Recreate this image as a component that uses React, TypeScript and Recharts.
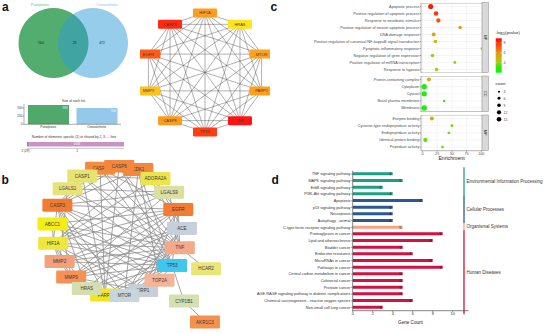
import React from 'react';
import {
  ScatterChart, Scatter, XAxis, YAxis, CartesianGrid, ReferenceLine, ReferenceArea,
  BarChart, Bar, Cell, LabelList, PieChart, Pie,
} from 'recharts';

const FONT = '"Liberation Sans", Arial, Helvetica, sans-serif';

// ---------------- Panel a : Venn + set sizes ----------------
const vennSetNames = ['Panoptosis', 'Osteoarthritis'];
const vennRegionCounts = [564, 29, 472];
const setSizes = [593, 501];
const sizeTicks = [0, 250, 500];
const elementShareLabels = ['2 (29)', '1'];
const elementShareCounts = [29, 1036];

// ---------------- Panel a : hub gene network ----------------
const hubGenes = ['HIF1A', 'HRAS', 'MTOR', 'PARP1', 'TNF', 'TP53', 'CASP8', 'MMP9', 'EGFR', 'CASP3'];
const hubColors = ['#ff9d1f', '#ffe31c', '#ffa11d', '#ffa01d', '#ff1414', '#ff3c12', '#ff9a1d', '#ffc21c', '#ff5a16', '#ff2a12'];

// ---------------- Panel b : PPI network ----------------
const ppiRing = ['CASP6', 'CDK1', 'ADORA2A', 'LGALS9', 'EGFR', 'ACE', 'TNF', 'TP53', 'TOP2A', 'NRP1', 'MTOR',
  'PARP1', 'HRAS', 'MMP9', 'MMP2', 'HIF1A', 'ABCC1', 'CASP3', 'LGALS1', 'CASP1', 'CASP8'];
const ppiRingColors = ['#f5873c', '#f5873c', '#ece44c', '#dadfa2', '#f47b30', '#c6d0da', '#f3a98a', '#3fc7ef', '#f3b596',
  '#c9cdd6', '#c6d6da', '#f4e61a', '#d5deb0', '#f59155', '#f3a07b', '#efe83c', '#f4ee12', '#f27a31', '#e7e27c', '#e5e372', '#f58c3c'];
const ppiOuter = ['HCAR2', 'CYP1B1', 'AKR1C3'];
const ppiOuterColors = ['#e8e676', '#d5e0b0', '#f5914f'];
const ppiOuterAngle = [23, 46.3, 46];
const ppiOuterRadius = [96.8, 96.9, 126.6];
const ppiBack = ['CASP8', 'CDK1', 'PARP1', 'NRP1'];
const ppiFront = ['CASP6', 'HRAS', 'MTOR'];
const ppiEdges = [
  'TNF-CASP3', 'TNF-CASP8', 'TNF-CASP1', 'TNF-MMP9', 'TNF-MMP2', 'TNF-HIF1A', 'TNF-EGFR', 'TNF-MTOR', 'TNF-HRAS',
  'TNF-LGALS9', 'TNF-ADORA2A', 'TNF-ABCC1', 'TNF-HCAR2', 'TNF-CASP6', 'TNF-PARP1', 'TNF-LGALS1',
  'TP53-CASP3', 'TP53-CASP8', 'TP53-CASP6', 'TP53-CASP1', 'TP53-HIF1A', 'TP53-MTOR', 'TP53-EGFR', 'TP53-HRAS',
  'TP53-MMP2', 'TP53-MMP9', 'TP53-PARP1', 'TP53-TOP2A', 'TP53-ABCC1', 'TP53-CYP1B1', 'TP53-CDK1', 'TP53-LGALS1',
  'CASP3-CASP8', 'CASP3-CASP6', 'CASP3-CASP1', 'CASP3-EGFR', 'CASP3-HIF1A', 'CASP3-MTOR', 'CASP3-PARP1', 'CASP3-HRAS',
  'CASP3-MMP9', 'CASP3-LGALS9', 'CASP3-TOP2A', 'CASP3-CDK1',
  'EGFR-HIF1A', 'EGFR-MTOR', 'EGFR-HRAS', 'EGFR-MMP9', 'EGFR-MMP2', 'EGFR-ABCC1', 'EGFR-CDK1', 'EGFR-CASP8',
  'HIF1A-MTOR', 'HIF1A-MMP9', 'HIF1A-MMP2', 'HIF1A-HRAS', 'HIF1A-CDK1', 'HIF1A-ABCC1', 'HIF1A-ADORA2A',
  'MTOR-HRAS', 'MTOR-CDK1', 'MTOR-PARP1', 'MTOR-ACE',
  'MMP9-MMP2', 'MMP9-HRAS', 'MMP9-ACE', 'MMP9-LGALS9', 'MMP9-NRP1',
  'CASP8-CASP6', 'CASP8-CASP1', 'CASP8-PARP1', 'CASP8-LGALS1',
  'CASP1-LGALS1', 'CASP1-PARP1', 'CASP6-PARP1', 'CASP1-ADORA2A',
  'ACE-ADORA2A', 'ACE-NRP1', 'ACE-MMP2', 'LGALS9-LGALS1', 'LGALS9-HIF1A', 'ABCC1-NRP1', 'CYP1B1-AKR1C3',
  'TOP2A-PARP1', 'TOP2A-ABCC1', 'NRP1-EGFR', 'NRP1-HIF1A', 'CDK1-TOP2A', 'CDK1-CASP8', 'LGALS1-MMP2',
];

// ---------------- Panel c : GO enrichment ----------------
const bpTerms = ['Apoptotic process', 'Positive regulation of apoptotic process', 'Response to xenobiotic stimulus',
  'Positive regulation of neuron apoptotic process', 'DNA damage response',
  'Positive regulation of canonical NF-kappaB signal transduction', 'Pyroptotic inflammatory response',
  'Negative regulation of gene expression', 'Positive regulation of miRNA transcription', 'Response to hypoxia'];
const bpEnrichment = [14, 23, 27, 64, 19, 22, 101, 17, 55, 24];
const bpCount = [18, 15, 13, 8, 11, 9, 5, 9, 6, 9];
const bpLogP = [8.6, 8.0, 7.4, 6.0, 5.6, 5.2, 5.0, 4.3, 4.0, 4.2];

const ccTerms = ['Protein-containing complex', 'Cytoplasm', 'Cytosol', 'Basal plasma membrane', 'Membrane'];
const ccEnrichment = [11, 3, 3, 37, 3];
const ccCount = [11, 21, 19, 4, 21];
const ccLogP = [5.2, 2.8, 2.9, 3.0, 2.7];

const mfTerms = ['Enzyme binding', 'Cysteine-type endopeptidase activity', 'Endopeptidase activity',
  'Identical protein binding', 'Peptidase activity'];
const mfEnrichment = [16, 50, 45, 5, 34];
const mfCount = [11, 6, 6, 13, 6];
const mfLogP = [5.4, 3.8, 3.9, 3.6, 3.8];

const enrichTicks = [0, 25, 50, 75, 100];
const logPTicks = [8, 6, 4];
const countBreaks = [3, 6, 9, 12, 15];

// ---------------- Panel d : KEGG ----------------
const pathways = ['TNF signaling pathway', 'MAPK signaling pathway', 'ErbB signaling pathway', 'PI3K-Akt signaling pathway',
  'Apoptosis', 'p53 signaling pathway', 'Necroptosis', 'Autophagy - animal', 'C-type lectin receptor signaling pathway',
  'Proteoglycans in cancer', 'Lipid and atherosclerosis', 'Bladder cancer', 'Endocrine resistance', 'MicroRNAs in cancer',
  'Pathways in cancer', 'Central carbon metabolism in cancer', 'Colorectal cancer', 'Prostate cancer',
  'AGE-RAGE signaling pathway in diabetic complications', 'Chemical carcinogenesis - reactive oxygen species',
  'Non-small cell lung cancer'];
const geneCounts = [4, 5, 3, 4, 7, 4, 4, 4, 5, 9, 8, 5, 6, 8, 9, 5, 5, 5, 5, 6, 3];
const pathwayClass = [
  'Environmental Information Processing', 'Environmental Information Processing', 'Environmental Information Processing',
  'Environmental Information Processing', 'Cellular Processes', 'Cellular Processes', 'Cellular Processes',
  'Cellular Processes', 'Organismal Systems', 'Human Diseases', 'Human Diseases', 'Human Diseases', 'Human Diseases',
  'Human Diseases', 'Human Diseases', 'Human Diseases', 'Human Diseases', 'Human Diseases', 'Human Diseases',
  'Human Diseases', 'Human Diseases'];
const classNames = ['Environmental Information Processing', 'Cellular Processes', 'Organismal Systems', 'Human Diseases'];
const classColors = ['#1ba084', '#2b5893', '#f7a282', '#d3123f'];
const geneTicks = [0, 2, 4, 6, 8, 10];

// ---------------- helpers ----------------
const colorStops: [number, number[]][] = [
  [2.0, [0, 255, 0]], [3.0, [40, 232, 20]], [4.0, [150, 208, 20]], [5.0, [205, 180, 10]],
  [6.0, [232, 150, 20]], [7.0, [246, 100, 16]], [8.0, [255, 55, 12]], [9.0, [255, 0, 0]],
];
function logpColor(v: number): string {
  if (v <= colorStops[0][0]) return `rgb(${colorStops[0][1].join(',')})`;
  for (let i = 1; i < colorStops.length; i++) {
    const [v1, c1] = colorStops[i];
    const [v0, c0] = colorStops[i - 1];
    if (v <= v1) {
      const t = (v - v0) / (v1 - v0);
      const c = c0.map((x, k) => Math.round(x + (c1[k] - x) * t));
      return `rgb(${c.join(',')})`;
    }
  }
  return 'rgb(255,0,0)';
}
const countRadius = (c: number) => 0.6 * Math.sqrt(c);

const plainYTick = (labels: (v: any) => string, fontSize: number, fill: string) => (p: any) => (
  <text x={p.x} y={p.y} dy="0.35em" textAnchor="end" fontSize={fontSize} fill={fill} fontFamily={FONT}>
    {labels(p.payload.value)}
  </text>
);

const nodeShape = (w: number, h: number, fs: number) => (p: any) => {
  const { cx, cy, payload } = p;
  if (cx == null || cy == null) return <g />;
  return (
    <g>
      <rect x={cx - w / 2} y={cy - h / 2} width={w} height={h} rx={1.3} fill={payload.color} />
      <text x={cx} y={cy} dy="0.36em" textAnchor="middle" fontSize={fs} fill="#3a3a3a" fontFamily={FONT}>{payload.name}</text>
    </g>
  );
};

// ---------------- Panel a network ----------------
function HubNetwork() {
  const R = 59.5;
  const nodes = hubGenes.map((g, i) => {
    const a = (-90 + i * 36) * Math.PI / 180;
    return { name: g, color: hubColors[i], x: R * Math.cos(a), y: -R * Math.sin(a) };
  });
  const edges: any[] = [];
  for (let i = 0; i < nodes.length; i++) for (let j = i + 1; j < nodes.length; j++) edges.push([nodes[i], nodes[j]]);
  return (
    <div style={{ position: 'absolute', left: 140, top: 0 }}>
      <ScatterChart width={130} height={145} margin={{ top: 0, right: 0, bottom: 0, left: 0 }}>
        <XAxis type="number" dataKey="x" domain={[-65, 65]} hide allowDataOverflow />
        <YAxis type="number" dataKey="y" domain={[-72.5, 72.5]} hide allowDataOverflow />
        {edges.map((e, k) => (
          <ReferenceLine key={k} segment={[{ x: e[0].x, y: e[0].y }, { x: e[1].x, y: e[1].y }]}
            stroke="#505050" strokeWidth={0.45} ifOverflow="visible" />
        ))}
        <Scatter data={nodes} isAnimationActive={false} shape={nodeShape(24, 9, 4)} />
      </ScatterChart>
    </div>
  );
}

// ---------------- Panel b network ----------------
function PPINetwork() {
  const cx = 117, cy = 71, R = 65;
  const all: any[] = ppiRing.map((g, i) => {
    const a = (-88 + i * (360 / ppiRing.length)) * Math.PI / 180;
    return { name: g, color: ppiRingColors[i], x: cx + R * Math.cos(a), y: cy + R * Math.sin(a) };
  });
  ppiOuter.forEach((g, i) => {
    const a = ppiOuterAngle[i] * Math.PI / 180;
    all.push({ name: g, color: ppiOuterColors[i], x: cx + ppiOuterRadius[i] * Math.cos(a), y: cy + ppiOuterRadius[i] * Math.sin(a) });
  });
  const byName: Record<string, any> = {};
  all.forEach((n) => { byName[n.name] = n; });
  const rank = (n: any) => (ppiBack.includes(n.name) ? 0 : ppiFront.includes(n.name) ? 2 : 1);
  const ordered = [...all].sort((a, b) => rank(a) - rank(b));
  return (
    <div style={{ position: 'absolute', left: 0, top: 160 }}>
      <ScatterChart width={240} height={173} margin={{ top: 0, right: 0, bottom: 0, left: 0 }}>
        <XAxis type="number" dataKey="x" domain={[0, 240]} hide allowDataOverflow />
        <YAxis type="number" dataKey="y" domain={[0, 173]} reversed hide allowDataOverflow />
        {ppiEdges.map((e, k) => {
          const [s, t] = e.split('-');
          const a = byName[s], b = byName[t];
          if (!a || !b) return null;
          return (
            <ReferenceLine key={k} segment={[{ x: a.x, y: a.y }, { x: b.x, y: b.y }]}
              stroke="#8e8e8e" strokeWidth={0.8} ifOverflow="visible" />
          );
        })}
        <Scatter data={ordered} isAnimationActive={false} shape={nodeShape(30, 13, 4.6)} />
      </ScatterChart>
    </div>
  );
}

// ---------------- Panel a bar charts ----------------
function SetSizeChart() {
  const data = vennSetNames.map((n, i) => ({ name: n, size: setSizes[i] }));
  const fills = ['#4ea96b', '#94c9ea'];
  return (
    <div style={{ position: 'absolute', left: 0, top: 104 }}>
      <BarChart width={121} height={26.3} data={data} margin={{ top: 0, right: 0, bottom: 0, left: 0 }} barCategoryGap={4}>
        <XAxis dataKey="name" height={6} interval={0} tick={{ fontSize: 3.2, fill: '#333', fontFamily: FONT }}
          tickSize={1} tickMargin={0.3} axisLine={{ stroke: '#333', strokeWidth: 0.4 }} tickLine={{ stroke: '#333', strokeWidth: 0.4 }} />
        <YAxis type="number" domain={[0, 620]} ticks={sizeTicks} width={24} interval={0}
          tick={plainYTick((v) => String(v), 3.2, '#333')} tickSize={1} tickMargin={0.5}
          axisLine={{ stroke: '#333', strokeWidth: 0.4 }} tickLine={{ stroke: '#333', strokeWidth: 0.4 }} />
        <Bar dataKey="size" isAnimationActive={false}>
          {data.map((d, i) => <Cell key={i} fill={fills[i]} />)}
          <LabelList dataKey="size" position="insideTopRight" offset={1.5} fill="#fff" fontSize={3} fontFamily={FONT} />
        </Bar>
      </BarChart>
    </div>
  );
}

function ElementShareChart() {
  const row = { name: 'all', shared: elementShareCounts[0], specific: elementShareCounts[1] };
  const total = elementShareCounts[0] + elementShareCounts[1];
  return (
    <div style={{ position: 'absolute', left: 27, top: 141.7 }}>
      <BarChart layout="vertical" width={97} height={5} data={[row]} margin={{ top: 0, right: 0, bottom: 0, left: 0 }}>
        <XAxis type="number" domain={[0, total]} hide />
        <YAxis type="category" dataKey="name" hide />
        <Bar dataKey="shared" stackId="s" fill="#b77fb0" barSize={5} isAnimationActive={false} />
        <Bar dataKey="specific" stackId="s" fill="#c992c3" barSize={5} isAnimationActive={false}>
          <LabelList dataKey="specific" position="center" fill="#fff" fontSize={3} fontFamily={FONT} />
        </Bar>
      </BarChart>
    </div>
  );
}

function VennChart() {
  return (
    <div style={{ position: 'absolute', left: 0, top: 0 }}>
      <PieChart width={140} height={85} margin={{ top: 0, right: 0, bottom: 0, left: 0 }}>
        <Pie data={[{ name: vennSetNames[0], value: setSizes[0] }]} dataKey="value" cx={53.5} cy={43} outerRadius={35}
          innerRadius={0} fill="#52ad6e" stroke="none" isAnimationActive={false} />
        <Pie data={[{ name: vennSetNames[1], value: setSizes[1] }]} dataKey="value" cx={93} cy={43} outerRadius={35}
          innerRadius={0} fill="#2d9bd5" fillOpacity={0.5} stroke="none" isAnimationActive={false} />
      </PieChart>
    </div>
  );
}

// ---------------- Panel c facets ----------------
const FACET_LEFT = 270, Y_W = 151, PLOT_W = 61.5, RIGHT_PAD = 6;
const X_DOMAIN: [number, number] = [-2.5, 102];
const dotShape = (p: any) => {
  if (p.cx == null) return <g />;
  const d = p.payload;
  return <circle cx={p.cx} cy={p.cy} r={countRadius(d.count)} fill={logpColor(d.logp)} />;
};

function Facet({ terms, enrich, counts, logp, top, plotH, showX }: any) {
  const n = terms.length;
  const data = terms.map((t: string, i: number) => ({ idx: i, term: t, x: enrich[i], count: counts[i], logp: logp[i] }));
  const axisH = showX ? 8 : 0;
  const tickStyle = { fontSize: 3.8, fill: '#4d4d4d', fontFamily: FONT };
  return (
    <div style={{ position: 'absolute', left: FACET_LEFT, top }}>
      <ScatterChart width={Y_W + PLOT_W + RIGHT_PAD} height={plotH + axisH} margin={{ top: 0, right: RIGHT_PAD, bottom: 0, left: 0 }}>
        <CartesianGrid stroke="#ebebeb" strokeWidth={0.5} />
        <XAxis type="number" dataKey="x" domain={X_DOMAIN} ticks={enrichTicks} allowDataOverflow hide={!showX}
          height={axisH} interval={0} tick={tickStyle} tickSize={1.2} tickMargin={0.3} axisLine={false}
          tickLine={{ stroke: '#333', strokeWidth: 0.4 }} />
        <YAxis type="number" dataKey="idx" domain={[-0.5, n - 0.5]} reversed ticks={data.map((d: any) => d.idx)}
          interval={0} width={Y_W} tick={plainYTick((v) => terms[v], 3.8, '#4d4d4d')} tickSize={1.2}
          tickMargin={0.5} axisLine={false} tickLine={{ stroke: '#333', strokeWidth: 0.4 }} />
        <ReferenceArea x1={X_DOMAIN[0]} x2={X_DOMAIN[1]} y1={-0.5} y2={n - 0.5} fill="none" fillOpacity={0}
          stroke="#8c8c8c" strokeWidth={0.6} />
        <Scatter data={data} isAnimationActive={false} shape={dotShape} />
      </ScatterChart>
    </div>
  );
}

// ---------------- Panel d ----------------
function KeggChart() {
  const data = pathways.map((p, i) => ({ idx: i, name: p, count: geneCounts[i], cls: pathwayClass[i] }));
  const tickStyle = { fontSize: 3.8, fill: '#333', fontFamily: FONT };
  const segs = classNames.map((c, k) => {
    const idxs = data.filter((d) => d.cls === c).map((d) => d.idx);
    return { name: c, color: classColors[k], y1: Math.min(...idxs) - 0.5, y2: Math.max(...idxs) + 0.5 };
  });
  return (
    <div style={{ position: 'absolute', left: 240, top: 165 }}>
      <BarChart layout="vertical" width={310} height={168} data={data}
        margin={{ top: 5.7, right: 81.3, bottom: 0, left: 0 }} barCategoryGap={1.6}>
        <XAxis type="number" dataKey="count" domain={[0, 11.6]} ticks={geneTicks} interval={0} allowDataOverflow
          height={22.3} tick={tickStyle} tickSize={1.5} tickMargin={0.5}
          axisLine={{ stroke: '#333', strokeWidth: 0.6 }} tickLine={{ stroke: '#333', strokeWidth: 0.5 }} />
        <YAxis type="category" dataKey="name" width={112.7} interval={0} tick={plainYTick((v) => String(v), 3.8, '#333')}
          tickSize={1.5} tickMargin={0.8} axisLine={{ stroke: '#333', strokeWidth: 0.6 }}
          tickLine={{ stroke: '#333', strokeWidth: 0.5 }} />
        <YAxis yAxisId="num" type="number" domain={[-0.5, 20.5]} hide />
        <Bar dataKey="count" isAnimationActive={false}>
          {data.map((d, i) => <Cell key={i} fill={classColors[classNames.indexOf(d.cls)]} />)}
          <LabelList dataKey="count" position="insideRight" offset={1.2} fill="#1a1a1a" fontSize={4} fontFamily={FONT} />
        </Bar>
        {segs.map((s, k) => (
          <ReferenceLine key={k} yAxisId="num" segment={[{ x: 11.13, y: s.y1 }, { x: 11.13, y: s.y2 }]}
            stroke={s.color} strokeWidth={1.3} ifOverflow="visible"
            label={{ value: s.name, position: 'right', offset: 2.5, fontSize: 4.5, fill: '#333', fontFamily: FONT }} />
        ))}
      </BarChart>
    </div>
  );
}

// ---------------- overlay text / legends ----------------
function Overlay() {
  const gradVals = [9, 8, 7, 6, 5, 4, 3, 2];
  const gTop = 38.3, gBot = 72.7, gMax = 8.9, gMin = 2.0;
  const gy = (v: number) => gTop + (gMax - v) / (gMax - gMin) * (gBot - gTop);
  const strips = [
    { label: 'BP', y: 2.7, h: 70 },
    { label: 'CC', y: 76, h: 35.7 },
    { label: 'MF', y: 115, h: 35.7 },
  ];
  const countY = [91.7, 98.3, 105.3, 112.3, 119.3];
  return (
    <svg width={550} height={333} style={{ position: 'absolute', left: 0, top: 0, pointerEvents: 'none' }} fontFamily={FONT}>
      <defs>
        <linearGradient id="lpg" x1="0" y1="0" x2="0" y2="1">
          {gradVals.map((v) => (
            <stop key={v} offset={Math.max(0, Math.min(1, (gMax - v) / (gMax - gMin)))} stopColor={logpColor(v)} />
          ))}
        </linearGradient>
      </defs>
      {/* panel letters */}
      <text x={2} y={10.5} fontSize={12} fontWeight="bold" fill="#111">a</text>
      <text x={1.5} y={183.5} fontSize={12} fontWeight="bold" fill="#111">b</text>
      <text x={270.5} y={10.5} fontSize={12} fontWeight="bold" fill="#111">c</text>
      <text x={271.5} y={183.5} fontSize={12} fontWeight="bold" fill="#111">d</text>

      {/* venn */}
      <text x={40} y={6} fontSize={3.6} textAnchor="middle" fill="#6dba86">{vennSetNames[0]}</text>
      <text x={107} y={6} fontSize={3.6} textAnchor="middle" fill="#86c3e4">{vennSetNames[1]}</text>
      <text x={41} y={44.3} fontSize={3.3} textAnchor="middle" fill="#222">{vennRegionCounts[0]}</text>
      <text x={74.5} y={44.3} fontSize={3.3} textAnchor="middle" fill="#222">{vennRegionCounts[1]}</text>
      <text x={102} y={44.3} fontSize={3.3} textAnchor="middle" fill="#222">{vennRegionCounts[2]}</text>
      <text x={73.5} y={102} fontSize={3.3} textAnchor="middle" fill="#333">Size of each list</text>
      <text x={74} y={138} fontSize={3.3} textAnchor="middle" fill="#333">Number of elements: specific (1) or shared by 2, 3, ... lists</text>
      <line x1={27} y1={148.5} x2={124} y2={148.5} stroke="#555" strokeWidth={0.3} />
      <text x={25.5} y={152.3} fontSize={3.1} textAnchor="middle" fill="#333">{elementShareLabels[0]}</text>
      <text x={77} y={152.3} fontSize={3.1} textAnchor="middle" fill="#333">{elementShareLabels[1]}</text>

      {/* panel c labels & legends */}
      <text x={451.5} y={160} fontSize={5.2} textAnchor="middle" fill="#222">Enrichment</text>
      {strips.map((s) => (
        <g key={s.label}>
          <rect x={482} y={s.y} width={6.5} height={s.h} fill="#d9d9d9" stroke="#8c8c8c" strokeWidth={0.5} />
          <text x={485.25} y={s.y + s.h / 2} fontSize={3.8} fill="#1a1a1a" textAnchor="middle" dominantBaseline="central"
            transform={`rotate(90 485.25 ${s.y + s.h / 2})`}>{s.label}</text>
        </g>
      ))}
      <text x={495.5} y={34} fontSize={4} fill="#222">-log<tspan fontSize={2.8} dy={1}>10</tspan><tspan dy={-1}>(pvalue)</tspan></text>
      <rect x={495.7} y={gTop} width={6} height={gBot - gTop} fill="url(#lpg)" />
      {logPTicks.map((v) => (
        <g key={v}>
          <line x1={495.7} x2={496.9} y1={gy(v)} y2={gy(v)} stroke="#fff" strokeWidth={0.4} />
          <line x1={500.5} x2={501.7} y1={gy(v)} y2={gy(v)} stroke="#fff" strokeWidth={0.4} />
          <text x={503.5} y={gy(v)} dy="0.35em" fontSize={3.6} fill="#4d4d4d">{v}</text>
        </g>
      ))}
      <text x={495.5} y={84.5} fontSize={4} fill="#222">count</text>
      {countBreaks.map((c, i) => (
        <g key={c}>
          <circle cx={499} cy={countY[i]} r={countRadius(c)} fill="#000" />
          <text x={503.5} y={countY[i]} dy="0.35em" fontSize={3.6} fill="#4d4d4d">{c}</text>
        </g>
      ))}

      {/* panel d axis title */}
      <text x={410.5} y={323.5} fontSize={4.6} textAnchor="middle" fill="#222">Gene Count</text>
    </svg>
  );
}

export default function App() {
  return (
    <div style={{ position: 'absolute', left: 0, top: 0, width: 550, height: 333, overflow: 'hidden', background: '#fff', fontFamily: FONT }}>
      <VennChart />
      <SetSizeChart />
      <ElementShareChart />
      <HubNetwork />
      <PPINetwork />
      <KeggChart />
      <Facet terms={bpTerms} enrich={bpEnrichment} counts={bpCount} logp={bpLogP} top={2.7} plotH={70} />
      <Facet terms={ccTerms} enrich={ccEnrichment} counts={ccCount} logp={ccLogP} top={76} plotH={35.7} />
      <Facet terms={mfTerms} enrich={mfEnrichment} counts={mfCount} logp={mfLogP} top={115} plotH={35.7} showX />
      <Overlay />
    </div>
  );
}
